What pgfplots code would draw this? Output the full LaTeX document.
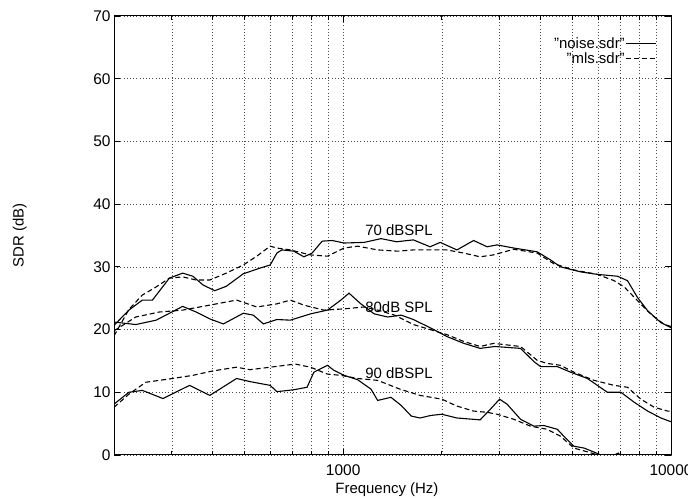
\documentclass[border=0pt]{standalone}
\usepackage{fontspec}
\setmainfont{Liberation Sans}
\usepackage{pgfplots}
\pgfplotsset{compat=1.18}

\begin{document}
\begin{tikzpicture}
\begin{axis}[
    scale only axis,
    width=557bp, height=439bp,
    xmode=log, xmin=200, xmax=10000,
    ymin=0, ymax=70,
    ytick={0,10,20,30,40,50,60,70},
    xtick={1000,10000},
    xticklabels={1000,10000},
    minor xtick={200,300,400,500,600,700,800,900,2000,3000,4000,5000,6000,7000,8000,9000},
    xtick pos=both, ytick pos=both,
    tick align=inside,
    major tick length=6bp, minor tick length=4bp,
    grid=both,
    grid style={black!70, line width=0.45bp, dash pattern=on 0.8bp off 2.4bp},
    axis line style={line width=1bp},
    every tick/.style={black, line width=0.8bp},
    /pgf/number format/assume math mode=true,
    ticklabel style={font=\fontsize{15.5}{17}\selectfont},
    xticklabel style={yshift=-6bp},
    xlabel={Frequency (Hz)},
    ylabel={SDR (dB)},
    every axis x label/.style={at={(axis description cs:0.49,-0.078)}, anchor=center, font=\fontsize{15}{17}\selectfont},
    every axis y label/.style={at={(axis description cs:-0.169,0.5)}, anchor=center, rotate=90, font=\fontsize{15}{17}\selectfont},
    legend plot pos=right,
    legend cell align=right,
    legend image code/.code={\draw[#1] (0bp,0bp) -- (30bp,0bp);},
    legend style={draw=none, fill=none, at={(1,1)}, anchor=north east,
        xshift=-14bp, yshift=-20bp, inner sep=0pt, row sep=1bp,
        font=\fontsize{15}{17}\selectfont,
        nodes={inner sep=1bp},
        /tikz/every even column/.append style={column sep=5bp}},
    noise/.style={black, line width=1.1bp},
    mls/.style={black, line width=1.1bp, dash pattern=on 5bp off 3bp},
]

% 70 dB SPL
\addplot[noise] coordinates {
(200,20.6) (202,20.9) (222,23.1) (244,24.7) (262,24.7) (295,28.2) (324,29.0)
(348,28.5) (374,27.1) (406,26.2) (440,26.9) (496,28.9) (558,29.8) (599,30.3)
(628,32.2) (650,32.7) (707,32.5) (759,31.6) (804,32.2) (863,34.1) (926,34.2)
(1007,33.8) (1159,33.9) (1305,34.5) (1455,34.0) (1637,34.3) (1841,33.2)
(1977,33.9) (2223,32.7) (2500,34.2) (2748,33.2) (2946,33.5) (3313,33.0)
(3906,32.4) (4293,31.1) (4603,30.0) (5297,29.2) (5958,28.8) (6871,28.5)
(7366,27.8) (7907,25.1) (8488,23.0) (9315,21.1) (10000,20.3)
};
\addlegendentry{"noise.sdr"}

\addplot[mls] coordinates {
(200,19.0) (222,23.2) (244,25.5) (269,26.8) (295,28.2) (324,28.4) (356,27.9)
(392,27.9) (440,29.0) (496,30.3) (545,31.7) (599,33.3) (628,33.0) (690,32.7)
(795,31.9) (895,31.7) (1007,33.0) (1107,33.3) (1274,32.7) (1469,32.5)
(1637,32.7) (2070,32.7) (2333,32.2) (2617,31.6) (2867,31.9) (3313,32.8)
(3906,32.2) (4390,30.5) (5057,29.5) (5958,28.8) (6703,27.8) (7200,26.8)
(7907,24.6) (8690,22.4) (9550,20.8) (10000,20.5)
};
\addlegendentry{"mls.sdr"}

% 80 dB SPL
\addplot[noise] coordinates {
(200,21.2) (233,20.8) (269,21.5) (324,23.7) (356,22.8) (392,21.7) (431,20.9)
(496,22.6) (532,22.3) (571,20.9) (628,21.6) (690,21.5) (795,22.5) (895,23.1)
(984,24.7) (1042,25.8) (1132,24.1) (1244,22.5) (1367,22.0) (1503,22.3)
(1637,21.6) (1841,20.3) (2070,18.9) (2333,17.8) (2617,17.0) (2900,17.3)
(3475,17.0) (3817,14.9) (4000,14.1) (4498,14.1) (4943,13.2) (5559,12.2)
(6397,10.0) (7033,10.0) (7727,8.4) (8488,7.0) (9315,5.9) (10000,5.3)
};
\addplot[mls] coordinates {
(200,19.8) (233,22.0) (275,22.8) (324,23.1) (392,23.9) (473,24.7) (545,23.6)
(628,24.1) (690,24.7) (759,23.9) (873,23.1) (1007,23.3) (1159,23.6)
(1274,23.1) (1436,22.3) (1637,20.8) (1841,20.0) (2070,19.2) (2333,18.1)
(2617,17.3) (2878,17.8) (3475,17.3) (3906,15.1) (4188,14.6) (4600,14.3)
(5057,13.2) (5821,11.9) (6703,11.1) (7366,10.8) (8091,8.9) (8892,7.6)
(9770,7.0) (10000,7.0)
};

% 90 dB SPL
\addplot[noise] coordinates {
(200,8.1) (222,10.0) (244,10.3) (282,9.0) (340,11.1) (392,9.5) (473,12.2)
(520,11.7) (599,11.1) (628,10.1) (707,10.4) (776,10.8) (814,13.2) (895,14.3)
(937,13.5) (1007,12.7) (1107,12.0) (1216,10.5) (1274,8.7) (1399,9.2)
(1503,7.9) (1614,6.2) (1716,5.9) (1849,6.3) (2000,6.5) (2223,5.9)
(2617,5.6) (2812,7.3) (3000,8.9) (3162,8.1) (3475,5.7) (3817,4.6)
(4093,4.7) (4500,4.1) (4710,3.0) (5057,1.4) (5433,1.1) (5800,0.5)
(6109,0.0) (6400,-0.5) (6900,0.3) (7200,-0.6) (8000,-2.0) (10000,-3.0)
};
\addplot[mls] coordinates {
(200,7.6) (222,9.7) (250,11.6) (302,12.2) (348,12.7) (400,13.4) (473,14.0)
(520,13.6) (599,14.0) (714,14.5) (795,14.0) (895,12.9) (984,12.7)
(1107,12.2) (1274,11.9) (1490,10.5) (1716,9.5) (2000,8.9) (2223,7.8)
(2500,7.0) (2750,6.8) (2946,6.5) (3313,5.7) (3726,4.6) (4188,4.1)
(4600,3.0) (5057,1.1) (5559,0.5) (6000,0.0) (6500,-0.6) (8000,-2.0)
(10000,-3.0)
};

\node[font=\fontsize{15}{17}\selectfont, inner sep=0pt] at (axis cs:1480,35.9) {70 dBSPL};
\node[font=\fontsize{15}{17}\selectfont, inner sep=0pt] at (axis cs:1480,23.6) {80dB SPL};
\node[font=\fontsize{15}{17}\selectfont, inner sep=0pt] at (axis cs:1480,13.1) {90 dBSPL};
\end{axis}
\pgfresetboundingbox
\path[use as bounding box] ([xshift=-114bp,yshift=-44bp]current axis.south west)
    rectangle ([xshift=17bp,yshift=16bp]current axis.north east);
\end{tikzpicture}
\end{document}
